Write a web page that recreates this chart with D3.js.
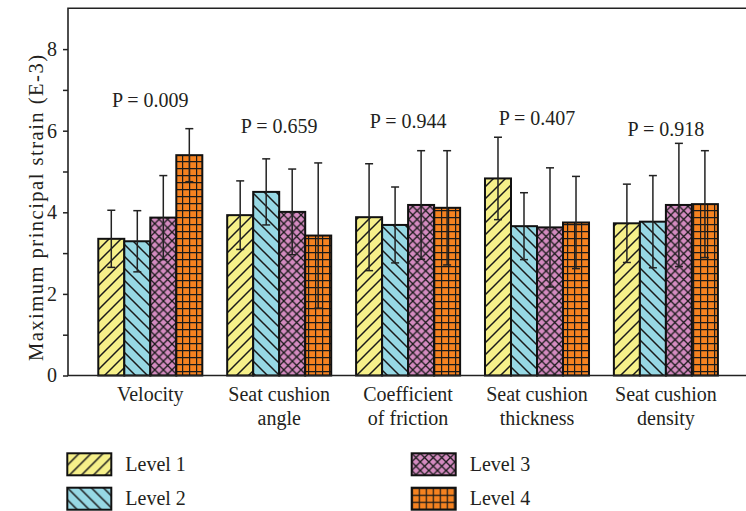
<!DOCTYPE html>
<html>
<head>
<meta charset="utf-8">
<script src="https://cdn.jsdelivr.net/npm/d3@7"></script>
<style>
  body { margin: 0; background: #fff; }
  text { font-family: "Liberation Serif", "Times New Roman", serif; fill: #231f20; }
</style>
</head>
<body>
<svg width="746" height="511"></svg>
<script>
// values
var categories = [["Velocity"], ["Seat cushion", "angle"], ["Coefficient", "of friction"],
                  ["Seat cushion", "thickness"], ["Seat cushion", "density"]];
var levels = ["Level 1", "Level 2", "Level 3", "Level 4"];

var level1 = [3.35, 3.93, 3.88, 4.83, 3.73];
var level2 = [3.29, 4.50, 3.69, 3.66, 3.77];
var level3 = [3.87, 4.01, 4.18, 3.63, 4.18];
var level4 = [5.40, 3.43, 4.11, 3.75, 4.20];

var err1 = [0.70, 0.84, 1.31, 1.01, 0.96];
var err2 = [0.75, 0.81, 0.93, 0.82, 1.13];
var err3 = [1.03, 1.05, 1.33, 1.46, 1.51];
var err4 = [0.65, 1.78, 1.40, 1.13, 1.31];

var pValues = ["0.009", "0.659", "0.944", "0.407", "0.918"];
var pLabelAt = [6.59, 5.95, 6.06, 6.14, 5.87];

var majorTicks = [0, 2, 4, 6, 8];
var minorTicks = [1, 3, 5, 7];

var fills = ["#f6f08a", "#97d8e4", "#d48bc0", "#f58220"];

var svg = d3.select("svg"),
    width = +svg.attr("width"),
    height = +svg.attr("height");

var means = [level1, level2, level3, level4];
var errs = [err1, err2, err3, err4];

var y = d3.scaleLinear()
    .domain([0, 9])
    .range([375.5, 8.3]);

var x0 = d3.scaleBand()
    .domain(d3.range(categories.length))
    .range([85.85, 730.35])
    .paddingInner(0.193)
    .paddingOuter(0.0965);

var x1 = d3.scaleBand()
    .domain(d3.range(levels.length))
    .range([0, x0.bandwidth()]);

// hatch patterns
var defs = svg.append("defs");

function hatch(id, bg, size, paths, sw) {
  var p = defs.append("pattern")
      .attr("id", id)
      .attr("patternUnits", "userSpaceOnUse")
      .attr("width", size)
      .attr("height", size);
  p.append("rect").attr("width", size).attr("height", size).attr("fill", bg);
  p.append("path")
      .attr("d", paths)
      .attr("stroke", "#1a1a1a")
      .attr("stroke-width", sw)
      .attr("fill", "none");
}

var s = 12;
hatch("p0", fills[0], s, "M-2,2 L2,-2 M0," + s + " L" + s + ",0 M" + (s - 2) + "," + (s + 2) + " L" + (s + 2) + "," + (s - 2), 1.5);
hatch("p1", fills[1], s, "M-2," + (s - 2) + " L2," + (s + 2) + " M0,0 L" + s + "," + s + " M" + (s - 2) + ",-2 L" + (s + 2) + ",2", 1.5);
var c = 8.6;
hatch("p2", fills[2], c, "M0,0 L" + c + "," + c + " M0," + c + " L" + c + ",0", 1.3);
var g4 = 7;
hatch("p3", fills[3], g4, "M0.5,0 V" + g4 + " M0,0.5 H" + g4, 1.4);

// bars
var rows = [];
categories.forEach(function(cat, i) {
  levels.forEach(function(lv, j) {
    rows.push({ cat: i, lvl: j, mean: means[j][i], err: errs[j][i] });
  });
});

var bars = svg.append("g");

bars.selectAll("rect")
  .data(rows)
  .enter().append("rect")
    .attr("x", function(d) { return x0(d.cat) + x1(d.lvl); })
    .attr("y", function(d) { return y(d.mean); })
    .attr("width", x1.bandwidth())
    .attr("height", function(d) { return y(0) - y(d.mean); })
    .attr("fill", function(d) { return "url(#p" + d.lvl + ")"; })
    .attr("stroke", "#111")
    .attr("stroke-width", 2);

// error bars
var eb = svg.append("g")
    .attr("stroke", "#222")
    .attr("stroke-width", 1.5);

rows.forEach(function(d) {
  var cx = x0(d.cat) + x1(d.lvl) + x1.bandwidth() / 2;
  eb.append("line")
      .attr("x1", cx).attr("x2", cx)
      .attr("y1", y(d.mean + d.err)).attr("y2", y(d.mean - d.err));
  eb.append("line")
      .attr("x1", cx - 4).attr("x2", cx + 4)
      .attr("y1", y(d.mean + d.err)).attr("y2", y(d.mean + d.err));
  eb.append("line")
      .attr("x1", cx - 4).attr("x2", cx + 4)
      .attr("y1", y(d.mean - d.err)).attr("y2", y(d.mean - d.err));
});

// P labels
svg.append("g").selectAll("text")
  .data(pValues)
  .enter().append("text")
    .attr("x", function(d, i) { return x0(i) + x0.bandwidth() / 2; })
    .attr("y", function(d, i) { return y(pLabelAt[i]); })
    .attr("text-anchor", "middle")
    .attr("font-size", 20)
    .text(function(d) { return "P = " + d; });

// axes
var axisG = svg.append("g").attr("transform", "translate(68,0)");
axisG.call(d3.axisLeft(y).tickValues(majorTicks).tickSize(5).tickPadding(6).tickFormat(d3.format("d")))
  .call(function(g) { g.select(".domain").remove(); })
  .selectAll("text")
    .attr("font-size", 20)
    .attr("font-family", "Liberation Serif")
    .attr("fill", "#231f20");
axisG.selectAll("line").attr("stroke", "#222").attr("stroke-width", 1.5);

svg.append("g").attr("transform", "translate(68,0)")
  .call(d3.axisLeft(y).tickValues(minorTicks).tickSize(5).tickFormat(""))
  .call(function(g) { g.select(".domain").remove(); })
  .selectAll("line").attr("stroke", "#222").attr("stroke-width", 1.5);

// frame: left, top and bottom
svg.append("path")
    .attr("d", "M" + width + "," + y(9) + " H68 V" + y(0) + " H" + width)
    .attr("fill", "none")
    .attr("stroke", "#222")
    .attr("stroke-width", 1.6);

svg.append("text")
    .attr("transform", "translate(43," + 208 + ") rotate(-90)")
    .attr("text-anchor", "middle")
    .attr("font-size", 20.5)
    .attr("textLength", 306)
    .attr("lengthAdjust", "spacing")
    .text("Maximum principal strain (E-3)");

// category labels
var catG = svg.append("g").selectAll("text")
  .data(categories)
  .enter().append("text")
    .attr("text-anchor", "middle")
    .attr("font-size", 20)
    .attr("x", function(d, i) { return x0(i) + x0.bandwidth() / 2; })
    .attr("y", 400.7);

catG.selectAll("tspan")
  .data(function(d) { return d; })
  .enter().append("tspan")
    .attr("x", function() { return d3.select(this.parentNode).attr("x"); })
    .attr("dy", function(d, k) { return k ? 24 : 0; })
    .text(function(d) { return d; });

// legend
var legendPos = [[67.3, 453.3], [67.3, 487.7], [411.7, 453.3], [411.7, 487.7]];
var legend = svg.append("g").selectAll("g")
  .data(levels)
  .enter().append("g")
    .attr("transform", function(d, i) { return "translate(" + legendPos[i] + ")"; });

legend.append("rect")
    .attr("width", 44)
    .attr("height", 22)
    .attr("fill", function(d, i) { return "url(#p" + i + ")"; })
    .attr("stroke", "#111")
    .attr("stroke-width", 2);

legend.append("text")
    .attr("x", 58)
    .attr("y", 17.5)
    .attr("font-size", 20)
    .text(function(d) { return d; });
</script>
</body>
</html>
